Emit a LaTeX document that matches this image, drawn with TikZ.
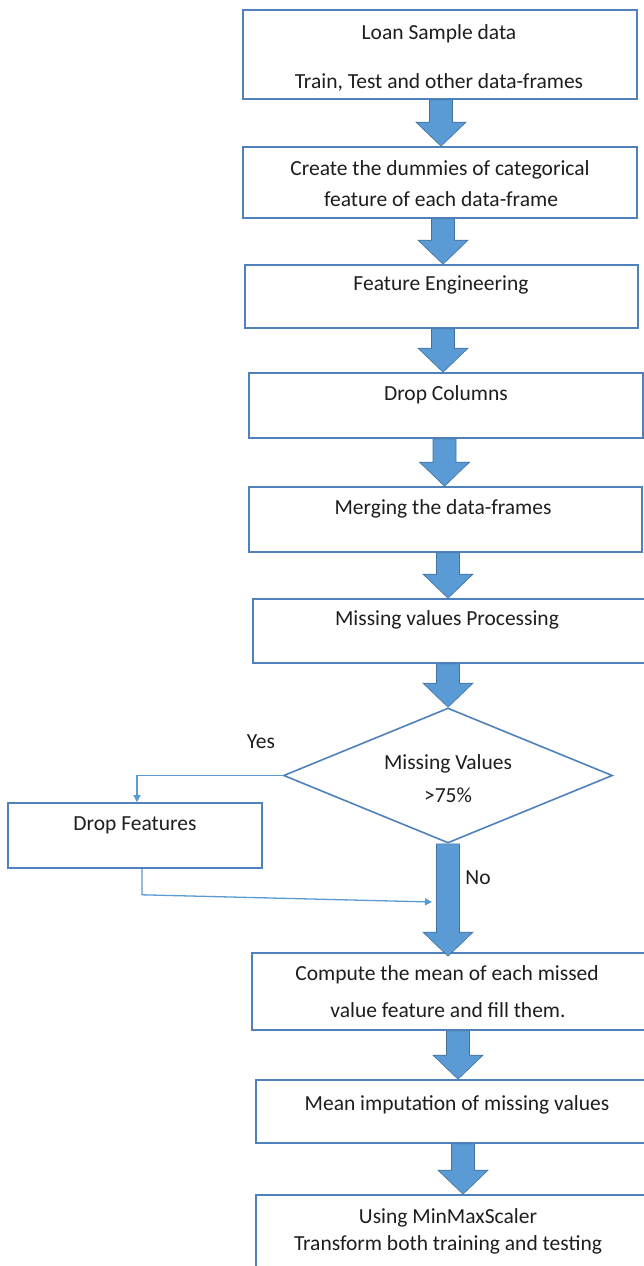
\documentclass[tikz,border=0pt]{standalone}
\usepackage{fontspec}
\setmainfont{Carlito}
\usetikzlibrary{shapes.geometric,arrows.meta,calc}
\definecolor{boxline}{HTML}{4F81BD}
\definecolor{arrfill}{HTML}{5B9BD5}
\definecolor{arrline}{HTML}{41719C}
\definecolor{txtcol}{HTML}{1E1E1E}
\newcommand\blkarrow[2]{%
  \draw[blk] let \p1=(#1), \p2=(#2) in
    (\x1-11.5pt,\y1) -- (\x1+11.5pt,\y1) -- (\x1+11.5pt,\y2+24pt) -- (\x1+25pt,\y2+24pt)
    -- (\x1,\y2) -- (\x1-25pt,\y2+24pt) -- (\x1-11.5pt,\y2+24pt) -- cycle;}
\begin{document}
\begin{tikzpicture}[x=1pt,y=-1pt,
  box/.style={draw=boxline,line width=1.6pt,fill=white,rectangle,inner sep=0pt},
  dmd/.style={draw=boxline,line width=1.6pt,fill=white,diamond,inner sep=0pt},
  txt/.style={text=txtcol,font=\fontsize{21.5}{25}\selectfont,inner sep=0pt,text height=15pt,text depth=5pt},
  blk/.style={fill=arrfill,draw=arrline,line width=0.6pt,line join=miter},
  thinarr/.style={draw=arrfill,line width=1.3pt,-{Triangle[length=7pt,width=7pt]}},
  thinln/.style={draw=arrfill,line width=1.3pt}]
\useasboundingbox (0,0) rectangle (644,1266);
\clip (0,0) rectangle (644,1266);
\fill[white] (0,0) rectangle (644,1266);
% boxes
\node[box,minimum width=394pt,minimum height=89pt] (b1) at (440,54.5) {};
\node[box,minimum width=394pt,minimum height=71pt] (b2) at (440,182.5) {};
\node[box,minimum width=393pt,minimum height=63pt] (b3) at (441.5,296.5) {};
\node[box,minimum width=394pt,minimum height=65pt] (b4) at (446,405.5) {};
\node[box,minimum width=393pt,minimum height=65pt] (b5) at (445.5,519.5) {};
\node[box,minimum width=398pt,minimum height=64pt] (b6) at (452,631) {};
\node[dmd,minimum width=329pt,minimum height=135pt] (dm) at (448,775.5) {};
\node[box,minimum width=254pt,minimum height=65pt] (df) at (135,835.5) {};
\node[box,minimum width=398pt,minimum height=77pt] (b7) at (451,991.5) {};
\node[box,minimum width=402pt,minimum height=63pt] (b8) at (457,1111.5) {};
\node[box,minimum width=400pt,minimum height=120pt] (b9) at (456,1255) {};
% texts
\node[txt] (t1a) at (439,34) {Loan Sample data};
\node[txt] (t1b) at (439,83) {Train, Test and other data-frames};
\node[txt] (t2a) at (440,170) {Create the dummies of categorical};
\node[txt] (t2b) at (441,201) {feature of each data-frame};
\node[txt] (t3) at (441,285) {Feature Engineering};
\node[txt] (t4) at (446,395) {Drop Columns};
\node[txt] (t5) at (443,509) {Merging the data-frames};
\node[txt] (t6) at (447,620) {Missing values Processing};
\node[txt] (t7a) at (448,764) {Missing Values};
\node[txt] (t7b) at (448,797) {>75\%};
\node[txt] (tyes) at (261,743) {Yes};
\node[txt] (tno) at (478,879) {No};
\node[txt] (tdf) at (135,825) {Drop Features};
\node[txt] (t8a) at (447,975) {Compute the mean of each missed};
\node[txt] (t8b) at (448,1012) {value feature and fill them.};
\node[txt] (t9) at (457,1105) {Mean imputation of missing values};
\node[txt] (t10a) at (448,1218) {Using MinMaxScaler};
\node[txt] (t10b) at (448,1245) {Transform both training and testing};
% block arrows
\coordinate (a1) at ([xshift=1pt]b1.south);
\coordinate (a2) at ([xshift=3pt]b2.south);
\coordinate (a3) at ([xshift=1.5pt]b3.south);
\coordinate (a4) at ([xshift=-1.5pt]b4.south);
\coordinate (a5) at ([xshift=2.5pt]b5.south);
\coordinate (a6) at ([xshift=-4pt]b6.south);
\coordinate (a7) at (dm.south);
\coordinate (a8) at ([xshift=7pt]b7.south);
\coordinate (a9) at ([xshift=6pt]b8.south);
\blkarrow{a1}{a1 |- b2.north}
\blkarrow{a2}{a2 |- b3.north}
\blkarrow{a3}{a3 |- b4.north}
\blkarrow{a4}{a4 |- b5.north}
\blkarrow{a5}{a5 |- b6.north}
\blkarrow{a6}{a6 |- dm.north}
\coordinate (a7e) at ([yshift=-4pt]a7 |- b7.north);
\blkarrow{a7}{a7e}
\blkarrow{a8}{a8 |- b8.north}
\blkarrow{a9}{a9 |- b9.north}
% thin connectors
\draw[thinarr] (dm.west) -| ([xshift=2pt]df.north);
\coordinate (dfb) at ([xshift=7pt]df.south);
\coordinate (noin) at (432,902);
\draw[thinarr] (dfb) -- ++(0,26) -- (noin);
\end{tikzpicture}
\end{document}
